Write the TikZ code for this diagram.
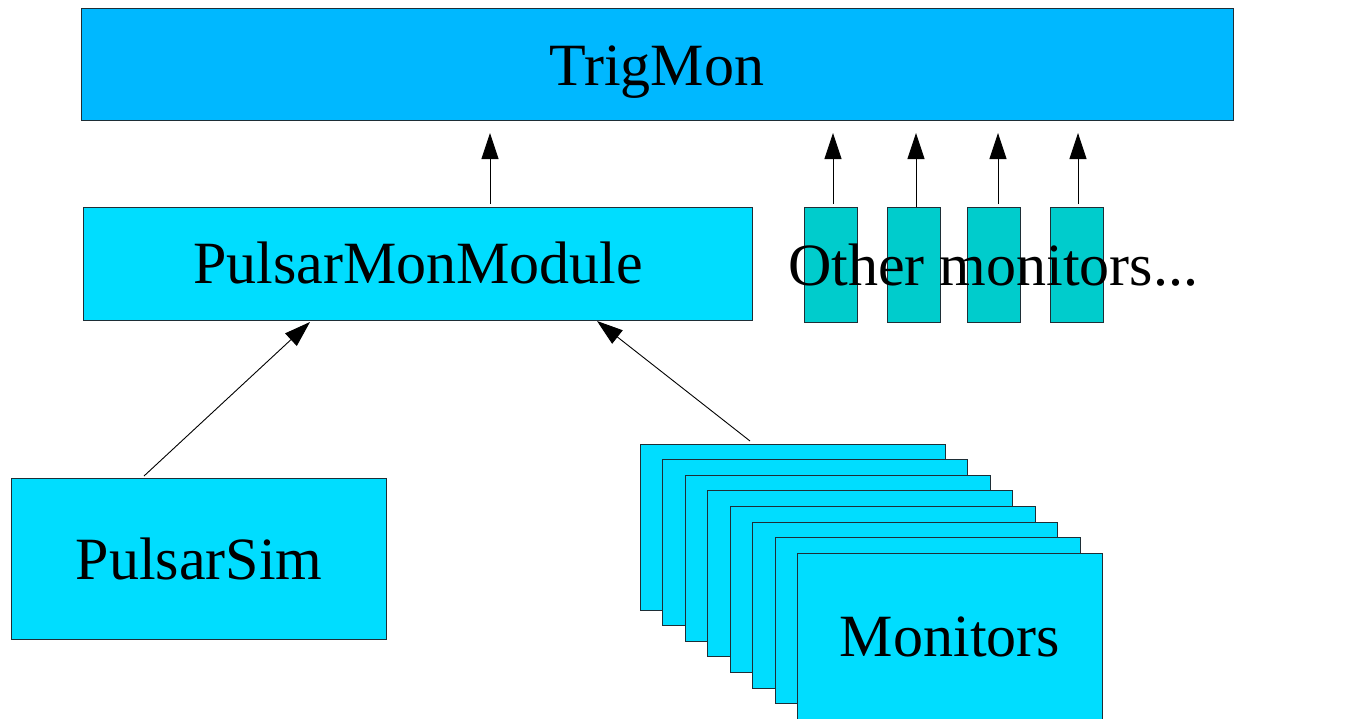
\documentclass[tikz,border=0pt]{standalone}
\usepackage{fontspec}
\setmainfont{Liberation Serif}
\usetikzlibrary{arrows.meta}
\definecolor{trigblue}{HTML}{00B8FF}
\definecolor{modcyan}{HTML}{00DDFF}
\definecolor{othteal}{HTML}{00CCCC}
\definecolor{edge}{HTML}{1E2E36}
\tikzset{
  boxshape/.style={draw=edge, line width=1pt, rectangle, inner sep=0pt, outer sep=0pt},
  lbl/.style={anchor=base, inner sep=0pt, font=\fontsize{60}{72}\selectfont},
  arr/.style={-{Triangle[length=26pt,width=17pt]}, line width=0.9pt, black},
}
\begin{document}
\begin{tikzpicture}[x=1pt,y=-1pt]
\useasboundingbox (0,0) rectangle (1366,718);
\clip (0,0) rectangle (1366,718);
% TrigMon
\node[boxshape, fill=trigblue, minimum width=1152pt, minimum height=112pt] (tm) at (657,64) {};
\node[lbl] (tmt) at (657,85) {TrigMon};
% PulsarMonModule
\node[boxshape, fill=modcyan, minimum width=669pt, minimum height=113pt] (pmm) at (417.5,263.5) {};
\node[lbl] (pmmt) at (418,283) {PulsarMonModule};
% Other monitors
\foreach \i/\x in {1/830.5,2/913.5,3/993.5,4/1076.5}{
  \node[boxshape, fill=othteal, minimum width=53pt, minimum height=115pt] (om\i) at (\x,264.5) {};
}
\node[lbl] (omt) at (993,285) {Other monitors...};
% PulsarSim
\node[boxshape, fill=modcyan, minimum width=375pt, minimum height=161pt] (ps) at (198.5,558.5) {};
\node[lbl] (pst) at (199,579) {PulsarSim};
% Monitors stack
\foreach \i in {0,...,7}{
  \node[boxshape, fill=modcyan, minimum width=305pt, minimum height=166pt] (m\i) at ({792.5+22.5*\i},{527+15.6*\i}) {};
}
\node[lbl] (mt) at (950,656) {Monitors};
% connector coordinates
\coordinate (tmA) at (490,133);
\coordinate (pmmA) at (490,204);
\coordinate (tm1) at (833,133);
\coordinate (tm2) at (916,133);
\coordinate (tm3) at (998,133);
\coordinate (tm4) at (1078,133);
\coordinate (om1a) at (833,204);
\coordinate (om2a) at (916,207);
\coordinate (om3a) at (998,204);
\coordinate (om4a) at (1078,204);
\coordinate (pmmB) at (310,322);
\coordinate (pmmC) at (597,321);
\coordinate (psA) at (144,476);
\coordinate (m0A) at (750,441);
\draw[arr] (pmmA) -- (tmA);
\draw[arr] (om1a) -- (tm1);
\draw[arr] (om2a) -- (tm2);
\draw[arr] (om3a) -- (tm3);
\draw[arr] (om4a) -- (tm4);
\draw[arr] (psA) -- (pmmB);
\draw[arr] (m0A) -- (pmmC);
\end{tikzpicture}
\end{document}
